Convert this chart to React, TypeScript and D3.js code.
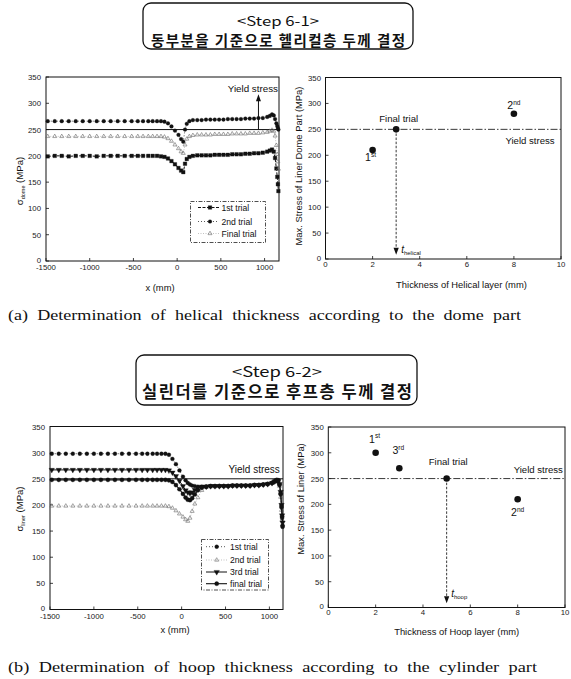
import React from "react";
import * as d3 from "d3";

const SANS = "'Liberation Sans', Arial, Helvetica, sans-serif";
const SERIF = "'Liberation Serif', 'Times New Roman', serif";
const KR = "'Noto Sans CJK KR', 'Noto Sans', sans-serif";

// Material limit and axis ticks
const YIELD_STRESS = 250;
const stressTicks = [0, 50, 100, 150, 200, 250, 300, 350];
const positionTicks = [-1500, -1000, -500, 0, 500, 1000];
const thicknessTicks = [0, 2, 4, 6, 8, 10];

// (a) liner stress along the vessel axis while sizing the helical layer
const domeX = [
  -1480, -1400, -1320, -1240, -1160, -1080, -1000, -920, -840, -760, -680, -600, -520, -450, -390, -330, -280, -230,
  -185, -145, -105, -65, -25, 15, 45, 70, 90, 110, 140, 180,
  230, 280, 330, 380, 430, 480, 530, 580, 630, 680, 730, 780, 830, 880, 930, 980, 1030,
  1060, 1085, 1105, 1120, 1135, 1145, 1152, 1158,
];
const dome1st = [
  199, 200, 200, 199, 200, 200, 200, 199, 200, 200, 200, 200, 200, 200, 200, 200, 200, 200,
  199, 198, 195, 190, 184, 177, 172, 169, 185, 194, 198, 200,
  201, 201, 201, 201, 202, 202, 202, 202, 203, 203, 203, 204, 204, 205, 205, 206, 208,
  210, 212, 208, 196, 176, 160, 146, 133,
];
const dome2nd = [
  266, 266, 266, 266, 266, 266, 266, 266, 266, 266, 266, 266, 266, 266, 266, 266, 266, 266,
  266, 265, 262, 256, 248, 240, 232, 227, 250, 261, 266, 268,
  268, 268, 269, 269, 269, 269, 269, 270, 270, 270, 270, 271, 271, 271, 272, 272, 274,
  276, 279, 277, 270, 262, 257, 253, 250,
];
const domeFinal = [
  237, 237, 237, 237, 237, 237, 237, 237, 237, 237, 237, 237, 237, 237, 237, 237, 237, 237,
  237, 236, 233, 228, 221, 214, 208, 205, 221, 232, 237, 239,
  240, 240, 240, 240, 241, 241, 241, 241, 242, 242, 242, 242, 243, 243, 243, 244, 245,
  247, 249, 247, 238, 220, 203, 189, 175,
];
const domeTrialNames = ["1st trial", "2nd trial", "Final trial"];

// (b) liner stress along the vessel axis while sizing the hoop layer
const hoopX = [
  -1480, -1400, -1320, -1240, -1160, -1080, -1000, -920, -840, -760, -680, -600, -520, -450, -390, -330, -280, -230,
  -185, -145, -105, -65, -25, 15, 45, 70, 95, 120, 150, 185,
  230, 280, 330, 380, 430, 480, 530, 580, 630, 680, 730, 780, 830, 880, 930, 980, 1030,
  1060, 1085, 1100, 1115, 1128, 1138, 1145, 1150,
];
const hoop1st = [
  298, 298, 298, 298, 298, 298, 298, 298, 298, 298, 298, 298, 298, 298, 298, 298, 298, 298,
  298, 296, 288, 278, 266, 254, 247, 242, 239, 237, 236, 235,
  235, 235, 236, 236, 236, 236, 236, 237, 237, 237, 237, 237, 238, 238, 239, 240, 242,
  245, 247, 246, 238, 220, 195, 175, 158,
];
const hoop2nd = [
  198, 198, 198, 198, 198, 198, 198, 198, 198, 198, 198, 198, 198, 198, 198, 198, 198, 198,
  198, 197, 194, 189, 183, 177, 172, 169, 175, 188, 202, 214,
  228, 234, 235, 235, 236, 236, 236, 236, 237, 237, 237, 237, 238, 238, 239, 240, 242,
  245, 247, 246, 236, 215, 190, 172, 162,
];
const hoop3rd = [
  267, 267, 267, 267, 267, 267, 267, 267, 267, 267, 267, 267, 267, 267, 267, 267, 267, 267,
  267, 266, 262, 255, 246, 236, 228, 224, 222, 224, 229, 233,
  235, 235, 236, 236, 236, 236, 236, 237, 237, 237, 237, 237, 238, 238, 239, 240, 242,
  245, 247, 246, 240, 225, 200, 180, 166,
];
const hoopFinal = [
  248, 248, 248, 248, 248, 248, 248, 248, 248, 248, 248, 248, 248, 248, 248, 248, 248, 248,
  248, 247, 244, 238, 230, 221, 214, 210, 209, 213, 220, 228,
  233, 235, 236, 236, 236, 236, 236, 237, 237, 237, 237, 237, 238, 238, 239, 240, 242,
  245, 248, 247, 239, 222, 198, 178, 160,
];
const hoopTrialNames = ["1st trial", "2nd trial", "3rd trial", "final trial"];

// Maximum liner stress reached in each design trial
const helicalTrials = ["1st", "2nd", "Final trial"];
const helicalThickness = [2, 8, 3];
const helicalMaxStress = [210, 280, 250];

const hoopTrials = ["1st", "2nd", "3rd", "Final trial"];
const hoopThickness = [2, 8, 3, 5];
const hoopMaxStress = [300, 210, 270, 250];

type Marker = {
  symbol: d3.SymbolType;
  size: number;
  rotate: number;
  fill: string;
  stroke: string;
  strokeWidth: number;
};
type SeriesDef = {
  name: string;
  values: number[];
  marker: Marker;
  lineDash: string | null;
  lineWidth: number;
  lineColor: string;
};
type Frame = { left: number; right: number; top: number; bottom: number };
type Scale = d3.ScaleLinear<number, number>;

const symbolPath = (m: Marker) => d3.symbol().type(m.symbol).size(m.size)() as string;

function AxisFrame({ f, x, y, xTicks, yTicks, xTickBaseline, yTickGap }: {
  f: Frame; x: Scale; y: Scale; xTicks: number[]; yTicks: number[]; xTickBaseline: number; yTickGap: number;
}) {
  return (
    <g fontFamily={SANS} fontSize={7.8} fill="#222">
      <rect x={f.left} y={f.top} width={f.right - f.left} height={f.bottom - f.top} fill="none" stroke="#111" strokeWidth={1} />
      {xTicks.map((t) => (
        <g key={`x${t}`}>
          <line x1={x(t)} x2={x(t)} y1={f.bottom} y2={f.bottom - 3} stroke="#111" strokeWidth={0.8} />
          <text x={x(t)} y={xTickBaseline} textAnchor="middle">{t}</text>
        </g>
      ))}
      {yTicks.map((t) => (
        <g key={`y${t}`}>
          <line x1={f.left} x2={f.left + 3} y1={y(t)} y2={y(t)} stroke="#111" strokeWidth={0.8} />
          <text x={f.left - yTickGap} y={y(t) + (t === 0 ? 1.5 : 3)} textAnchor="end">{t}</text>
        </g>
      ))}
    </g>
  );
}

function ProfileChart(props: {
  f: Frame;
  xMax: number;
  xs: number[];
  series: SeriesDef[];
  ySub: string;
  yLabel: [number, number];
  xLabel: [number, number];
  xTickBaseline: number;
  legendBox: [number, number, number, number];
  legendRows: number[];
  legendMarkerX: number;
  legendTextX: number;
  legendLine: [number, number];
  extra: (x: Scale, y: Scale) => React.ReactNode;
}) {
  const { f, xs, series } = props;
  const x = d3.scaleLinear().domain([-1500, props.xMax]).range([f.left, f.right]);
  const y = d3.scaleLinear().domain([0, 350]).range([f.bottom, f.top]);
  const path = d3.line<number>().x((_, i) => x(xs[i])).y((v) => y(v));
  const [lx0, ly0, lx1, ly1] = props.legendBox;
  return (
    <g>
      <AxisFrame f={f} x={x} y={y} xTicks={positionTicks} yTicks={stressTicks} xTickBaseline={props.xTickBaseline} yTickGap={5} />
      <line x1={f.left} x2={f.right} y1={y(YIELD_STRESS)} y2={y(YIELD_STRESS)} stroke="#111" strokeWidth={1} />
      {series.map((s) => (
        <g key={s.name}>
          {s.lineDash !== null && (
            <path d={path(s.values) as string} fill="none" stroke={s.lineColor} strokeWidth={s.lineWidth}
              strokeDasharray={s.lineDash || undefined} />
          )}
          {s.values.map((v, i) => (
            <path key={i} d={symbolPath(s.marker)}
              transform={`translate(${x(xs[i])},${y(v)}) rotate(${s.marker.rotate})`}
              fill={s.marker.fill} stroke={s.marker.stroke} strokeWidth={s.marker.strokeWidth} />
          ))}
        </g>
      ))}
      {props.extra(x, y)}
      <rect x={lx0} y={ly0} width={lx1 - lx0} height={ly1 - ly0} fill="#fff" stroke="#222" strokeWidth={0.8}
        strokeDasharray="4,1.5,1,1.5" />
      {series.map((s, i) => {
        const ry = props.legendRows[i];
        return (
          <g key={`lg${s.name}`}>
            {s.lineDash !== null && (
              <line x1={props.legendLine[0]} x2={props.legendLine[1]} y1={ry} y2={ry} stroke={s.lineColor}
                strokeWidth={s.lineWidth} strokeDasharray={s.lineDash || undefined} />
            )}
            <path d={symbolPath(s.marker)} transform={`translate(${props.legendMarkerX},${ry}) rotate(${s.marker.rotate})`}
              fill={s.marker.fill} stroke={s.marker.stroke} strokeWidth={s.marker.strokeWidth} />
            <text x={props.legendTextX} y={ry + 3} fontFamily={SANS} fontSize={8.6} fill="#111">{s.name}</text>
          </g>
        );
      })}
      <text transform={`translate(${props.yLabel[0]},${props.yLabel[1]}) rotate(-90)`} textAnchor="middle"
        fontFamily={SANS} fontSize={9.6} fill="#111">
        σ<tspan fontSize={5.5} dy={2}>{props.ySub}</tspan><tspan dy={-2}> (MPa)</tspan>
      </text>
      <text x={props.xLabel[0]} y={props.xLabel[1]} textAnchor="middle" fontFamily={SANS} fontSize={9.4} fill="#111">x (mm)</text>
    </g>
  );
}

function Ordinal({ name, x, y, size }: { name: string; x: number; y: number; size: number }) {
  const m = /^(\d+)(st|nd|rd|th)$/.exec(name);
  if (!m) {
    return <text x={x} y={y} textAnchor="middle" fontFamily={SANS} fontSize={size} fill="#111">{name}</text>;
  }
  return (
    <text x={x} y={y} textAnchor="middle" fontFamily={SANS} fontSize={size + 1} fill="#111">
      {m[1]}<tspan dy={-4.5} fontSize={size - 3}>{m[2]}</tspan>
    </text>
  );
}

function TrialChart(props: {
  f: Frame;
  names: string[];
  thickness: number[];
  stress: number[];
  labelOffsets: [number, number][];
  yieldLabel: [number, number];
  tSub: string;
  tLabel: [number, number];
  yTitle: string;
  yTitlePos: [number, number];
  xTitle: string;
  xTitlePos: [number, number];
  xTickBaseline: number;
}) {
  const { f } = props;
  const x = d3.scaleLinear().domain([0, 10]).range([f.left, f.right]);
  const y = d3.scaleLinear().domain([0, 350]).range([f.bottom, f.top]);
  const finalIdx = props.names.length - 1;
  const fx = x(props.thickness[finalIdx]);
  const fy = y(props.stress[finalIdx]);
  const tipY = y(8);
  return (
    <g>
      <AxisFrame f={f} x={x} y={y} xTicks={thicknessTicks} yTicks={stressTicks} xTickBaseline={props.xTickBaseline} yTickGap={4.5} />
      <line x1={f.left} x2={f.right} y1={y(YIELD_STRESS)} y2={y(YIELD_STRESS)} stroke="#222" strokeWidth={0.9}
        strokeDasharray="7,2,1.5,2" />
      <line x1={fx} x2={fx} y1={fy} y2={tipY - 6} stroke="#222" strokeWidth={0.9} strokeDasharray="2.5,1.6" />
      <path d={`M${fx - 2.6},${tipY - 7} L${fx + 2.6},${tipY - 7} L${fx},${tipY} Z`} fill="#111" />
      {props.names.map((n, i) => {
        const px = x(props.thickness[i]);
        const py = y(props.stress[i]);
        const [dx, dy] = props.labelOffsets[i];
        return (
          <g key={n}>
            <circle cx={px} cy={py} r={3.3} fill="#111" />
            <Ordinal name={n} x={px + dx} y={py + dy} size={9.6} />
          </g>
        );
      })}
      <text x={props.yieldLabel[0]} y={y(YIELD_STRESS) + props.yieldLabel[1]} textAnchor="middle"
        fontFamily={SANS} fontSize={9.6} fill="#111">Yield stress</text>
      <text x={fx + props.tLabel[0]} y={props.tLabel[1]} fontFamily={SANS} fontSize={10} fontStyle="italic" fill="#111">
        t<tspan fontSize={6} fontStyle="normal" dy={1.5}>{props.tSub}</tspan>
      </text>
      <text transform={`translate(${props.yTitlePos[0]},${props.yTitlePos[1]}) rotate(-90)`} textAnchor="middle"
        fontFamily={SANS} fontSize={9.4} fill="#111">{props.yTitle}</text>
      <text x={props.xTitlePos[0]} y={props.xTitlePos[1]} textAnchor="middle" fontFamily={SANS} fontSize={9.4} fill="#111">
        {props.xTitle}
      </text>
    </g>
  );
}

function TitleBox({ x, y, w, h, step, text, stepSize, stepBase, stepLen, krSize, krBase, krLen, cx }: {
  x: number; y: number; w: number; h: number; step: string; text: string;
  stepSize: number; stepBase: number; stepLen: number; krSize: number; krBase: number; krLen: number; cx: number;
}) {
  return (
    <g>
      <rect x={x} y={y} width={w} height={h} rx={8} fill="#fff" stroke="#111" strokeWidth={1.3} />
      <text x={cx} y={stepBase} textAnchor="middle" fontFamily={KR} fontSize={stepSize} fill="#111"
        textLength={stepLen} lengthAdjust="spacingAndGlyphs">{step}</text>
      <text x={cx} y={krBase} textAnchor="middle" fontFamily={KR} fontWeight={700} fontSize={krSize} fill="#111"
        textLength={krLen} lengthAdjust="spacing">{text}</text>
    </g>
  );
}

function Caption({ y, width, text }: { y: number; width: number; text: string }) {
  return (
    <text x={8} y={y} fontFamily={SERIF} fontSize={15.5} fill="#111" textLength={width}
      lengthAdjust="spacingAndGlyphs" style={{ wordSpacing: "4px" }}>
      {text}
    </text>
  );
}

const black = "#111";
const grey = "#6a6a6a";

const domeSeries: SeriesDef[] = [
  {
    name: domeTrialNames[0], values: dome1st,
    marker: { symbol: d3.symbolSquare, size: 13, rotate: 0, fill: black, stroke: black, strokeWidth: 0.3 },
    lineDash: "3,1.5", lineWidth: 1, lineColor: black,
  },
  {
    name: domeTrialNames[1], values: dome2nd,
    marker: { symbol: d3.symbolCircle, size: 11, rotate: 0, fill: black, stroke: black, strokeWidth: 0.3 },
    lineDash: "1,2", lineWidth: 0.7, lineColor: black,
  },
  {
    name: domeTrialNames[2], values: domeFinal,
    marker: { symbol: d3.symbolTriangle, size: 7, rotate: 0, fill: "none", stroke: grey, strokeWidth: 0.6 },
    lineDash: "1,1.5", lineWidth: 0.6, lineColor: "#999",
  },
];

const hoopSeries: SeriesDef[] = [
  {
    name: hoopTrialNames[0], values: hoop1st,
    marker: { symbol: d3.symbolCircle, size: 12, rotate: 0, fill: black, stroke: black, strokeWidth: 0.3 },
    lineDash: "1,2", lineWidth: 0.7, lineColor: black,
  },
  {
    name: hoopTrialNames[1], values: hoop2nd,
    marker: { symbol: d3.symbolTriangle, size: 7, rotate: 0, fill: "none", stroke: grey, strokeWidth: 0.6 },
    lineDash: "1,1.5", lineWidth: 0.6, lineColor: "#999",
  },
  {
    name: hoopTrialNames[2], values: hoop3rd,
    marker: { symbol: d3.symbolTriangle, size: 13, rotate: 180, fill: black, stroke: black, strokeWidth: 0.3 },
    lineDash: "", lineWidth: 1, lineColor: black,
  },
  {
    name: hoopTrialNames[3], values: hoopFinal,
    marker: { symbol: d3.symbolCircle, size: 14, rotate: 0, fill: black, stroke: black, strokeWidth: 0.3 },
    lineDash: "", lineWidth: 1.1, lineColor: black,
  },
];

export default function App() {
  return (
    <svg width={571} height={679} viewBox="0 0 571 679"
      style={{ position: "absolute", left: 0, top: 0, background: "#fff" }}>
      <rect width={571} height={679} fill="#fff" />

      <TitleBox x={143} y={3} w={270} h={46} cx={278} step="<Step 6-1>" text="동부분을 기준으로 헬리컬층 두께 결정"
        stepSize={13} stepBase={25.5} stepLen={82} krSize={14.5} krBase={45.5} krLen={254} />

      <ProfileChart
        f={{ left: 46, right: 279, top: 77, bottom: 261 }}
        xMax={1165}
        xs={domeX}
        series={domeSeries}
        ySub="dome"
        yLabel={[22.5, 181]}
        xLabel={[160, 291]}
        xTickBaseline={270}
        legendBox={[190.5, 201.5, 265.5, 242.5]}
        legendRows={[207.5, 221.5, 233.5]}
        legendMarkerX={210}
        legendTextX={221.5}
        legendLine={[198, 219]}
        extra={(x, y) => (
          <g>
            <line x1={x(930)} x2={x(930)} y1={y(YIELD_STRESS)} y2={y(308)} stroke="#111" strokeWidth={1} />
            <path d={`M${x(930) - 2.5},${y(304)} L${x(930) + 2.5},${y(304)} L${x(930)},${y(317)} Z`} fill="#111" />
            <text x={278} y={91.5} textAnchor="end" fontFamily={SANS} fontSize={9.8} fill="#111">Yield stress</text>
          </g>
        )}
      />

      <TrialChart
        f={{ left: 325.5, right: 561, top: 77.5, bottom: 259 }}
        names={helicalTrials}
        thickness={helicalThickness}
        stress={helicalMaxStress}
        labelOffsets={[[-2, 11], [0, -4.5], [2.5, -7.5]]}
        yieldLabel={[530, 14.5]}
        tSub="helical"
        tLabel={[5, 253]}
        yTitle="Max. Stress of Liner Dome Part (MPa)"
        yTitlePos={[301.5, 166]}
        xTitle="Thickness of Helical layer (mm)"
        xTitlePos={[461.5, 287.5]}
        xTickBaseline={266.5}
      />

      <Caption y={320} width={513} text="(a) Determination of helical thickness according to the dome part" />

      <TitleBox x={136} y={355} w={281} h={50} cx={277} step="<Step 6-2>" text="실린더를 기준으로 후프층 두께 결정"
        stepSize={14} stepBase={376.5} stepLen={90} krSize={16.5} krBase={398} krLen={270} />

      <ProfileChart
        f={{ left: 50, right: 283, top: 426.5, bottom: 609.5 }}
        xMax={1155}
        xs={hoopX}
        series={hoopSeries}
        ySub="liner"
        yLabel={[23, 509]}
        xLabel={[175, 633]}
        xTickBaseline={619}
        legendBox={[201.5, 539.5, 268.5, 590]}
        legendRows={[546.7, 560, 572, 583.7]}
        legendMarkerX={216.7}
        legendTextX={230}
        legendLine={[206, 227]}
        extra={(x, y) => (
          <text x={228.5} y={y(YIELD_STRESS) - 5.5} fontFamily={SANS} fontSize={10} fill="#111">Yield stress</text>
        )}
      />

      <TrialChart
        f={{ left: 328.3, right: 565, top: 427, bottom: 607.5 }}
        names={hoopTrials}
        thickness={hoopThickness}
        stress={hoopMaxStress}
        labelOffsets={[[-1, -10], [0, 17], [-1, -14], [1.5, -14]]}
        yieldLabel={[538.3, -5.5]}
        tSub="hoop"
        tLabel={[4.5, 597]}
        yTitle="Max. Stress of Liner (MPa)"
        yTitlePos={[303.5, 499]}
        xTitle="Thickness of Hoop layer (mm)"
        xTitlePos={[456.7, 634.5]}
        xTickBaseline={615}
      />

      <Caption y={672} width={529} text="(b) Determination of hoop thickness according to the cylinder part" />
    </svg>
  );
}
